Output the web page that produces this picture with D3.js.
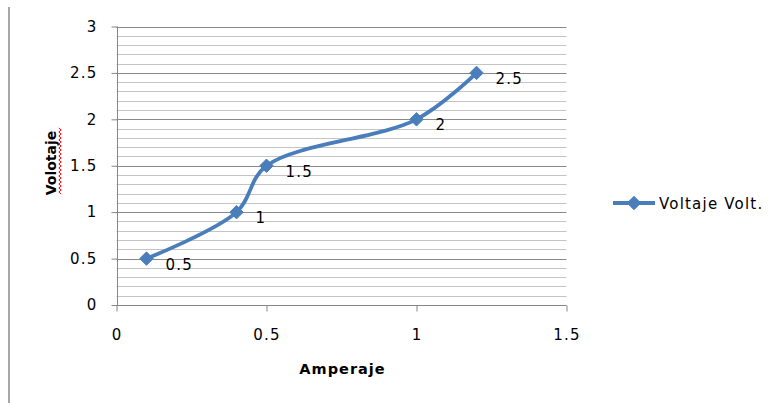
<!DOCTYPE html>
<html>
<head>
<meta charset="utf-8">
<script src="https://cdn.jsdelivr.net/npm/d3@7"></script>
<style>
  html, body { margin: 0; padding: 0; background: #fff; }
  svg { display: block; }
  text { font-family: "DejaVu Sans", Verdana, sans-serif; fill: #000; }
</style>
</head>
<body>
<svg id="chart" width="782" height="403"></svg>
<script>
// Current (A) and voltage (V) readings
const amperaje = [0.1, 0.4, 0.5, 1.0, 1.2];
const voltaje = [0.5, 1.0, 1.5, 2.0, 2.5];
const xTicks = [0, 0.5, 1, 1.5];
const yTicks = [0, 0.5, 1, 1.5, 2, 2.5, 3];
const seriesName = "Voltaje Volt.";
const xTitle = "Amperaje";
const yTitle = "Volotaje";

const svg = d3.select("#chart");
const blue = "#4a7ebb";
const labelFont = { size: "15px", spacing: "1.2px" };

const x = d3.scaleLinear().domain([0, 1.5]).range([116.5, 566.5]);
const y = d3.scaleLinear().domain([0, 3]).range([305, 26.5]);

// Chart area left border
svg.append("line")
  .attr("x1", 9).attr("x2", 9).attr("y1", 7).attr("y2", 403)
  .attr("stroke", "#a8a8a8").attr("stroke-width", 2);

// Minor gridlines every 0.1
const minor = d3.range(1, 30).map(i => i / 10).filter(v => Math.round(v * 10) % 5 !== 0);
svg.append("g").selectAll("line").data(minor).join("line")
  .attr("x1", x(0)).attr("x2", x(1.5))
  .attr("y1", d => Math.round(y(d)) + 0.5).attr("y2", d => Math.round(y(d)) + 0.5)
  .attr("stroke", "#c4c4c4").attr("stroke-width", 1);

// Major gridlines
svg.append("g").selectAll("line").data(yTicks.filter(d => d > 0)).join("line")
  .attr("x1", x(0)).attr("x2", x(1.5))
  .attr("y1", d => Math.round(y(d)) + 0.5).attr("y2", d => Math.round(y(d)) + 0.5)
  .attr("stroke", "#8a8a8a").attr("stroke-width", 1);

// Y axis
const yAxis = svg.append("g")
  .attr("transform", `translate(${Math.round(x(0)) + 0.5},0)`)
  .call(d3.axisLeft(y).tickValues(yTicks).tickFormat(d3.format("")).tickSize(6).tickPadding(14));
// X axis
const xAxis = svg.append("g")
  .attr("transform", `translate(0,${Math.round(y(0)) + 0.5})`)
  .call(d3.axisBottom(x).tickValues(xTicks).tickFormat(d3.format("")).tickSize(6).tickPadding(18));

[yAxis, xAxis].forEach(g => {
  g.select(".domain").attr("stroke", "#868686");
  g.selectAll(".tick line").attr("stroke", "#868686");
  g.selectAll(".tick text")
    .style("font-family", "'DejaVu Sans', Verdana, sans-serif")
    .style("font-size", labelFont.size)
    .style("letter-spacing", labelFont.spacing)
    .attr("fill", "#000");
});
yAxis.select(".domain").attr("d", `M0,${y(0)}V${y(3)}`);
xAxis.select(".domain").attr("d", `M${x(0)},0H${x(1.5)}`);

// Axis titles
svg.append("text")
  .attr("x", x(0.75) + 1).attr("y", 374)
  .attr("text-anchor", "middle")
  .style("font-size", "14.5px").style("font-weight", "bold")
  .style("letter-spacing", "1px")
  .text(xTitle);

svg.append("text")
  .attr("transform", "translate(56,163) rotate(-90)")
  .attr("text-anchor", "middle")
  .style("font-size", "14px").style("font-weight", "bold")
  .text(yTitle);

// Spell-check squiggle beside the vertical title
const wave = d3.range(0, 68, 2).map((d, i) => [60 + (i % 2 ? 1.2 : -1.2), 128 + d]);
svg.append("path")
  .attr("d", d3.line()(wave))
  .attr("fill", "none").attr("stroke", "#ff0000").attr("stroke-width", 1);

// Series
const pts = amperaje.map((a, i) => [a, voltaje[i]]);
const line = d3.line()
  .x(d => x(d[0])).y(d => y(d[1]))
  .curve(d3.curveCatmullRom.alpha(0.5));

svg.append("path")
  .datum(pts)
  .attr("d", line)
  .attr("fill", "none")
  .attr("stroke", blue)
  .attr("stroke-width", 3.8)
  .attr("stroke-linejoin", "round");

const diamond = d3.symbol().type(d3.symbolDiamond2).size(115);
svg.append("g").selectAll("path").data(pts).join("path")
  .attr("transform", d => `translate(${x(d[0])},${y(d[1])})`)
  .attr("d", diamond)
  .attr("fill", blue).attr("stroke", blue).attr("stroke-width", 1);

// Data labels
svg.append("g").selectAll("text").data(pts).join("text")
  .attr("x", d => x(d[0]) + 19)
  .attr("y", d => y(d[1]) + 11)
  .style("font-size", labelFont.size)
  .style("letter-spacing", labelFont.spacing)
  .text(d => d3.format("")(d[1]));

// Legend
const lg = svg.append("g").attr("transform", "translate(613,203)");
lg.append("line").attr("x1", 0).attr("x2", 42).attr("y1", 0).attr("y2", 0)
  .attr("stroke", blue).attr("stroke-width", 3.8);
lg.append("path").attr("transform", "translate(21,0)").attr("d", diamond)
  .attr("fill", blue).attr("stroke", blue);
lg.append("text").attr("x", 46).attr("y", 5.5)
  .style("font-size", labelFont.size)
  .style("letter-spacing", labelFont.spacing)
  .text(seriesName);
</script>
</body>
</html>
